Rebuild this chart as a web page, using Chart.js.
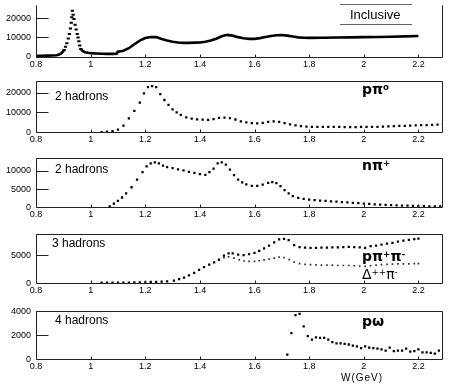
<!DOCTYPE html>
<html>
<head>
<meta charset="utf-8">
<script src="https://cdn.jsdelivr.net/npm/chart.js@4.4.0/dist/chart.umd.min.js"></script>
<style>
  body { margin: 0; background: #fff; width: 452px; height: 387px; overflow: hidden; position: relative; font-family: 'Liberation Sans', Arial, sans-serif; }
  canvas { position: absolute; left: 0; }
  .t { position: absolute; white-space: nowrap; color: #000; line-height: 1; }
  .lab { font-size: 12px; }
  .ch { font-size: 14px; font-weight: bold; font-family: 'DejaVu Sans', sans-serif; }
  .ch sup { font-size: 62%; vertical-align: 0.45em; }
  .rule { position: absolute; left: 340px; width: 72px; border-top: 1px solid #666; }
</style>
</head>
<body>
<canvas id="c1" width="452" height="77" style="top:-5px"></canvas>
<canvas id="c2" width="452" height="76" style="top:71px"></canvas>
<canvas id="c3" width="452" height="74" style="top:148px"></canvas>
<canvas id="c4" width="452" height="74" style="top:224px"></canvas>
<canvas id="c5" width="452" height="73" style="top:301px"></canvas>

<div class="rule" style="top:4px"></div>
<div class="t" style="left:350px;top:8px;font-size:13px">Inclusive</div>
<div class="rule" style="top:24px"></div>

<div class="t lab" style="left:55px;top:90px">2 hadrons</div>
<div class="t ch" style="left:362px;top:82px">pπ<sup>o</sup></div>

<div class="t lab" style="left:55px;top:163px">2 hadrons</div>
<div class="t ch" style="left:362px;top:158px">nπ<sup>+</sup></div>

<div class="t lab" style="left:52px;top:237px">3 hadrons</div>
<div class="t ch" style="left:362px;top:249px">pπ<sup>+</sup>π<sup>-</sup></div>
<div class="t ch" style="left:362px;top:267px;font-weight:normal">Δ<sup>++</sup>π<sup>-</sup></div>

<div class="t lab" style="left:55px;top:314px">4 hadrons</div>
<div class="t ch" style="left:362px;top:314px">pω</div>

<div class="t" style="left:341px;top:373px;font-size:10px;letter-spacing:1px">W(GeV)</div>

<script>
// x axis, shared by all panels
const xTicks = [0.8, 1, 1.2, 1.4, 1.6, 1.8, 2, 2.2]
const xLabels = ['0.8', '1', '1.2', '1.4', '1.6', '1.8', '2', '2.2']

// inclusive
const inclW = [0.80, 0.82, 0.84, 0.86, 0.875, 0.885, 0.895, 0.903, 0.908, 0.913, 0.918, 0.922, 0.926, 0.929, 0.931, 0.933,
  0.936, 0.939, 0.943, 0.947, 0.951, 0.954, 0.957, 0.96, 0.964, 0.97, 0.98, 0.99, 1.00, 1.02, 1.04, 1.06, 1.08, 1.095,
  1.10, 1.12, 1.14, 1.16, 1.18, 1.20, 1.22, 1.24, 1.26, 1.28, 1.30, 1.32, 1.34, 1.36, 1.38, 1.40, 1.42, 1.44, 1.46, 1.48,
  1.50, 1.52, 1.54, 1.56, 1.58, 1.60, 1.62, 1.64, 1.66, 1.68, 1.70, 1.72, 1.74, 1.76, 1.78, 1.80, 1.85, 1.90, 1.95, 2.00,
  2.05, 2.10, 2.15, 2.20]
const inclY = [200, 250, 300, 350, 500, 900, 1800, 3300, 5000, 6800, 9300, 11700, 14500, 17500, 20500, 23800,
  21800, 19500, 16500, 14000, 11700, 9800, 7800, 5600, 3800, 2800, 2100, 1800, 1600, 1400, 1250, 1200, 1200, 1250,
  2400, 2900, 4200, 6300, 8200, 9500, 10100, 10000, 9000, 8200, 7600, 7200, 7000, 7000, 7100, 7200, 7600, 8200, 9200, 10500,
  11200, 10800, 10000, 9400, 9100, 9100, 9500, 10100, 10600, 11000, 11100, 10800, 10300, 9900, 9700, 9600, 9700, 9800, 9900, 10000,
  10100, 10200, 10400, 10600]
const inclTicks = [0, 10000, 20000]

// 2 hadrons: p pi0
const ppi0W = [1.04, 1.06, 1.08, 1.10, 1.12, 1.14, 1.16, 1.18, 1.195, 1.21, 1.225, 1.24, 1.255, 1.27, 1.285, 1.30, 1.315, 1.33,
  1.35, 1.37, 1.39, 1.41, 1.43, 1.45, 1.47, 1.49, 1.51, 1.53, 1.55, 1.57, 1.59, 1.61, 1.63, 1.65, 1.67, 1.69, 1.71, 1.73,
  1.75, 1.77, 1.79, 1.81, 1.83, 1.85, 1.87, 1.89, 1.91, 1.93, 1.95, 1.97, 1.99, 2.01, 2.03, 2.05, 2.07, 2.09, 2.11, 2.13,
  2.15, 2.17, 2.19, 2.21, 2.23, 2.25, 2.27, 2.29]
const ppi0Y = [0, 200, 500, 1300, 3300, 7000, 10800, 15000, 19700, 22800, 23400, 22900, 19300, 16300, 13800, 11600, 10000, 8700,
  7500, 6800, 6500, 6300, 6200, 6600, 7200, 7400, 7100, 6400, 5500, 4900, 4500, 4400, 4700, 5200, 5400, 5200, 4600, 3900,
  3400, 3000, 2800, 2700, 2700, 2650, 2600, 2600, 2600, 2550, 2550, 2550, 2600, 2600, 2650, 2700, 2800, 2900, 3000, 3100,
  3200, 3300, 3400, 3500, 3600, 3700, 3800, 3900]
const ppi0Ticks = [0, 10000, 20000]

// 2 hadrons: n pi+
const npiW = [1.07, 1.085, 1.10, 1.115, 1.13, 1.15, 1.17, 1.19, 1.205, 1.22, 1.235, 1.25, 1.265, 1.28, 1.30, 1.32, 1.34, 1.36,
  1.38, 1.40, 1.42, 1.435, 1.45, 1.465, 1.48, 1.495, 1.51, 1.525, 1.54, 1.555, 1.57, 1.59, 1.61, 1.63, 1.65, 1.665, 1.68,
  1.695, 1.71, 1.725, 1.74, 1.76, 1.78, 1.80, 1.82, 1.84, 1.86, 1.88, 1.90, 1.92, 1.94, 1.96, 1.98, 2.00, 2.02, 2.04, 2.06,
  2.08, 2.10, 2.12, 2.14, 2.16, 2.18, 2.20, 2.22, 2.24, 2.26, 2.28]
const npiY = [300, 1000, 1800, 2700, 3800, 5500, 7600, 9600, 11200, 12000, 12300, 12000, 11400, 11000, 10700, 10400, 10100, 9700,
  9400, 9100, 8900, 9600, 10600, 12000, 12300, 11700, 10300, 8800, 7600, 6800, 6300, 5900, 5900, 6200, 6700, 6900, 6600,
  5800, 4700, 3800, 3100, 2600, 2300, 2100, 1950, 1850, 1750, 1650, 1550, 1450, 1350, 1250, 1150, 1050, 950, 850, 780,
  700, 620, 560, 500, 450, 400, 350, 320, 290, 260, 240]
const npiTicks = [0, 5000, 10000]

// 3 hadrons: p pi+ pi- and Delta++ pi-
const ppipiW = [1.04, 1.06, 1.08, 1.10, 1.12, 1.14, 1.16, 1.18, 1.20, 1.22, 1.24, 1.26, 1.28, 1.305, 1.324, 1.342, 1.36, 1.379,
  1.397, 1.415, 1.434, 1.452, 1.47, 1.488, 1.505, 1.52, 1.54, 1.56, 1.58, 1.60, 1.617, 1.635, 1.653, 1.672, 1.69, 1.708,
  1.725, 1.745, 1.765, 1.785, 1.805, 1.825, 1.845, 1.865, 1.885, 1.905, 1.925, 1.945, 1.965, 1.985, 2.005, 2.025, 2.045,
  2.065, 2.085, 2.105, 2.125, 2.145, 2.165, 2.185, 2.20]
const ppipiY = [100, 100, 100, 100, 100, 100, 150, 150, 150, 200, 200, 250, 300, 450, 700, 1000, 1400, 1850,
  2350, 2850, 3300, 3700, 4200, 4900, 5300, 5300, 5100, 5000, 5200, 5400, 5750, 6200, 6700, 7300, 7800, 7900,
  7700, 6800, 6450, 6350, 6300, 6300, 6350, 6350, 6400, 6400, 6450, 6500, 6450, 6400, 6300, 6600, 6700,
  6900, 7050, 7200, 7400, 7600, 7750, 7850, 7950]
const dpiW = [1.47, 1.488, 1.505, 1.525, 1.544, 1.562, 1.58, 1.60, 1.617, 1.635, 1.653, 1.672, 1.69, 1.708, 1.727, 1.745,
  1.765, 1.785, 1.805, 1.825, 1.845, 1.865, 1.885, 1.905, 1.925, 1.945, 1.965, 1.985, 2.005, 2.025, 2.045, 2.065, 2.085,
  2.105, 2.125, 2.145, 2.165, 2.185, 2.20]
const dpiY = [4150, 4550, 4700, 4450, 4150, 3950, 3900, 3900, 4000, 4150, 4300, 4450, 4650, 4550, 4200, 3750,
  3500, 3350, 3300, 3250, 3200, 3200, 3200, 3150, 3150, 3150, 3100, 3050, 3000, 3100, 3200, 3300, 3350,
  3400, 3450, 3450, 3450, 3500, 3500]
const threeTicks = [0, 5000]

// 4 hadrons: p omega
const pomW = [1.72, 1.735, 1.75, 1.765, 1.78, 1.795, 1.81, 1.825, 1.84, 1.855, 1.87, 1.885, 1.90, 1.915, 1.93, 1.945, 1.96,
  1.975, 1.99, 2.005, 2.02, 2.035, 2.05, 2.065, 2.08, 2.095, 2.11, 2.125, 2.14, 2.155, 2.17, 2.185, 2.20, 2.215, 2.23,
  2.245, 2.26, 2.275]
const pomY = [400, 2200, 3700, 3800, 2750, 1950, 1650, 1850, 1800, 1800, 1650, 1450, 1350, 1350, 1300, 1250, 1150,
  1100, 950, 1100, 1000, 950, 900, 850, 750, 1000, 700, 750, 750, 900, 650, 700, 850, 600, 600,
  550, 500, 750]
const pomTicks = [0, 2000, 4000]

const pts = (w, v) => w.map((x, i) => ({ x, y: v[i] }))
const tickFont = { family: "'Liberation Sans', Arial, sans-serif", size: 9 }

// box round the plot area, with PAW-style inward ticks
const frame = {
  id: 'frame',
  afterDraw(chart, args, opts) {
    const { ctx, chartArea: a, scales: { x, y } } = chart
    const l = Math.round(a.left) + 0.5, r = Math.round(a.right) - 0.5
    const t = Math.round(a.top) + 0.5, b = Math.round(a.bottom) - 0.5
    ctx.save()
    ctx.strokeStyle = '#222'
    ctx.lineWidth = 1
    ctx.beginPath()
    if (!opts.open) { ctx.moveTo(l, t); ctx.lineTo(r, t) }
    ctx.moveTo(l, a.top); ctx.lineTo(l, b); ctx.lineTo(r, b); ctx.lineTo(r, a.top)
    y.ticks.forEach(tk => {
      if (tk.value === 0) return
      const py = Math.round(y.getPixelForValue(tk.value)) + 0.5
      ctx.moveTo(l, py); ctx.lineTo(l + 12, py)
    })
    x.ticks.forEach(tk => {
      const px = Math.round(x.getPixelForValue(tk.value)) + 0.5
      ctx.moveTo(px, b); ctx.lineTo(px, b - 3)
    })
    ctx.stroke()
    ctx.restore()
  }
}

function panel(id, datasets, yMin, yMax, yTicks, open) {
  return new Chart(document.getElementById(id), {
    type: 'scatter',
    data: { datasets },
    options: {
      responsive: false,
      animation: false,
      events: [],
      layout: { padding: { top: 5, right: 9, left: 0, bottom: 0 } },
      plugins: { legend: { display: false }, tooltip: { enabled: false }, frame: { open } },
      scales: {
        x: {
          type: 'linear', min: 0.8, max: 2.29,
          afterBuildTicks: s => { s.ticks = xTicks.map(v => ({ value: v })) },
          afterFit: s => { s.height = 14 },
          grid: { display: false, drawTicks: false },
          border: { display: false },
          ticks: { autoSkip: false, maxRotation: 0, padding: 1, color: '#000', font: tickFont,
            callback: v => xLabels[xTicks.indexOf(v)] }
        },
        y: {
          min: yMin, max: yMax,
          afterBuildTicks: s => { s.ticks = yTicks.map(v => ({ value: v })) },
          afterFit: s => { s.width = 36 },
          grid: { display: false, drawTicks: false },
          border: { display: false },
          ticks: { padding: 5, color: '#000', font: tickFont, callback: v => String(v) }
        }
      }
    },
    plugins: [frame]
  })
}

const dots = { pointStyle: 'rect', pointRadius: 1.6, pointBackgroundColor: '#000', pointBorderWidth: 0 }
const inPeak = w => w > 0.9 && w < 0.966

panel('c1', [{
  data: pts(inclW, inclY),
  showLine: true,
  borderColor: '#000',
  borderWidth: 2.6,
  segment: { borderColor: c => (c.p0.parsed.x > 0.9 && c.p1.parsed.x < 0.966) ? 'rgba(0,0,0,0)' : '#000' },
  pointStyle: 'line',
  pointRadius: c => inPeak(c.raw.x) ? 1.6 : 0,
  pointBorderColor: '#000',
  pointBorderWidth: 2
}], -950, 26670, inclTicks, true)

panel('c2', [{ data: pts(ppi0W, ppi0Y), ...dots }], -460, 25750, ppi0Ticks, false)
panel('c3', [{ data: pts(npiW, npiY), ...dots }], -170, 13380, npiTicks, false)
panel('c4', [
  { data: pts(ppipiW, ppipiY), ...dots },
  { data: pts(dpiW, dpiY), ...dots, pointRadius: 1.2, pointBackgroundColor: '#333' }
], -160, 8710, threeTicks, false)
panel('c5', [{ data: pts(pomW, pomY), ...dots }], -37, 4000, pomTicks, false)
</script>
</body>
</html>
